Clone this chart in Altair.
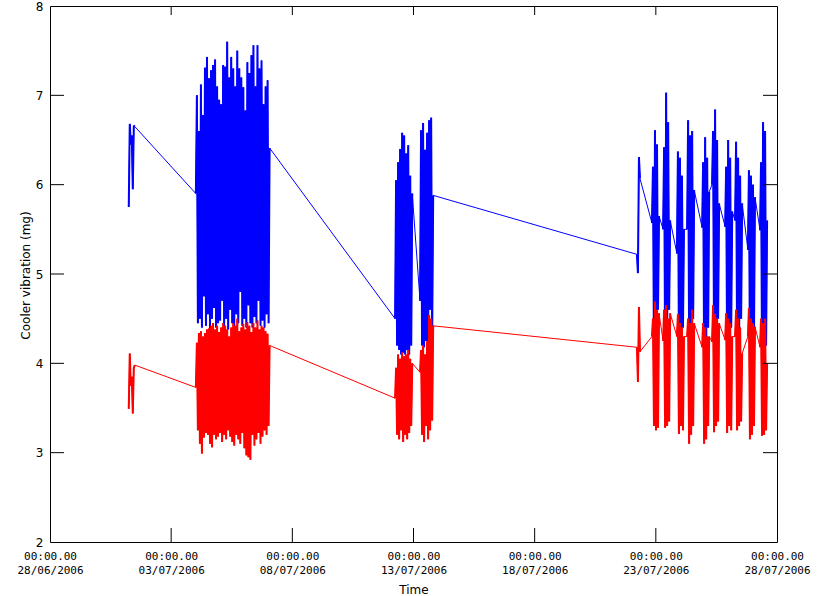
import json
import altair as alt
import pandas as pd

# ---------------- axis / tick texts ----------------
X_TICK_DAYS = [0, 5, 10, 15, 20, 25, 30]          # days since 28/06/2006 00:00
X_TICK_DATES = ["28/06/2006", "03/07/2006", "08/07/2006", "13/07/2006",
                "18/07/2006", "23/07/2006", "28/07/2006"]
X_TICK_TIME = "00:00.00"
Y_TICKS = [2, 3, 4, 5, 6, 7, 8]
X_TITLE = "Time"
Y_TITLE = "Cooler vibration (mg)"

HOUR = 1.0 / 24.0   # sampling cadence (days)

# ---------------- data ----------------
# isolated run on 01/07
ISO1_START = 3.25
ISO1_BLUE = [5.75, 6.68, 6.45, 6.55, 5.95, 6.66, 6.65]
ISO1_RED = [3.49, 4.11, 3.75, 3.85, 3.44, 3.95, 3.98]

# big block 04/07 - 07/07
B1_START = 6.02
B1_ENTRY = (5.90, 3.73)
B1_EXIT = (6.41, 4.20)
B1_BLUE_HI = [7.00, 6.60, 7.12, 6.78, 7.31, 7.43, 7.19, 7.28, 7.34, 7.40, 7.10, 6.95,
              6.90, 7.34, 7.32, 7.60, 7.20, 7.43, 7.30, 7.10, 7.50, 7.30, 7.20, 7.09,
              6.83, 7.37, 7.25, 7.45, 7.56, 7.10, 7.56, 7.30, 7.39, 6.90, 7.10, 7.17]
B1_BLUE_LO = [4.45, 4.50, 4.40, 4.75, 4.42, 4.55, 4.38, 4.50, 4.62, 4.40, 4.45, 4.48,
              4.70, 4.42, 4.50, 4.38, 4.60, 4.45, 4.40, 4.55, 4.45, 4.80, 4.42, 4.50,
              4.40, 4.65, 4.45, 4.40, 4.52, 4.45, 4.70, 4.42, 4.48, 4.40, 4.55, 4.45]
B1_RED_HI = [4.23, 4.34, 4.36, 4.30, 4.34, 4.38, 4.39, 4.42, 4.45, 4.38, 4.42, 4.35,
             4.40, 4.45, 4.42, 4.38, 4.30, 4.40, 4.45, 4.42, 4.50, 4.36, 4.40, 4.44,
             4.38, 4.46, 4.42, 4.35, 4.45, 4.40, 4.48, 4.38, 4.42, 4.40, 4.36, 4.33]
B1_RED_LO = [3.25, 3.10, 2.99, 3.17, 3.22, 3.20, 3.10, 3.06, 3.20, 3.15, 3.18, 3.22,
             3.12, 3.20, 3.15, 3.25, 3.18, 3.12, 3.08, 3.20, 3.15, 3.10, 3.22, 3.05,
             2.97, 2.95, 2.92, 3.20, 3.08, 3.15, 3.22, 3.10, 3.18, 3.25, 3.20, 3.30]

# block on 12/07
B2_START = 14.24
B2_ENTRY = (4.50, 3.61)
B2_EXIT = (5.90, 4.00)
B2_BLUE_HI = [6.05, 6.25, 6.40, 6.58, 6.55, 6.35, 6.44, 6.10]
B2_BLUE_LO = [4.20, 4.15, 4.10, 4.12, 4.10, 4.15, 4.10, 4.20]
B2_RED_HI = [3.95, 4.10, 4.05, 4.12, 4.08, 4.10, 4.15, 4.05]
B2_RED_LO = [3.20, 3.15, 3.25, 3.12, 3.20, 3.15, 3.22, 3.30]

# block on 13/07
B3_START = 15.27
B3_ENTRY = (4.70, 3.90)
B3_EXIT = (5.88, 4.42)
B3_BLUE_HI = [6.61, 6.69, 6.39, 6.58, 6.72, 6.75]
B3_BLUE_LO = [4.20, 4.18, 4.25, 4.15, 4.60, 4.30]
B3_RED_HI = [4.15, 4.20, 4.10, 4.25, 4.54, 4.50]
B3_RED_LO = [3.20, 3.12, 3.30, 3.15, 3.25, 3.36]

# isolated run on 22/07
ISO4_START = 24.22
ISO4_BLUE = [5.22, 5.01, 6.31, 6.07]
ISO4_RED = [4.18, 3.79, 4.63, 4.13]

# bursts 22/07 - 27/07
BURST_STARTS = [24.84, 25.30, 25.87, 26.29, 26.91, 27.32, 27.86, 28.27, 28.80, 29.30]
BURST_BLUE = [
    [5.57, 6.20, 4.05, 6.61, 4.00, 6.45, 4.60, 5.65],
    [5.50, 6.42, 4.04, 7.03, 4.30, 6.70, 4.60, 5.60],
    [5.23, 6.37, 4.15, 6.30, 4.20, 6.10, 4.40, 5.50],
    [5.50, 6.72, 4.20, 6.55, 4.10, 6.60, 4.50, 5.94],
    [5.52, 6.25, 4.04, 6.53, 4.10, 6.30, 4.40, 5.92],
    [6.00, 6.60, 4.15, 6.84, 4.20, 6.50, 4.50, 5.79],
    [5.53, 6.20, 3.96, 6.50, 4.10, 6.30, 4.40, 5.70],
    [5.60, 6.48, 4.20, 6.30, 4.25, 6.10, 4.50, 5.79],
    [5.27, 6.16, 4.00, 6.10, 4.10, 6.00, 4.30, 5.86],
    [5.49, 6.25, 4.00, 6.70, 4.10, 6.60, 4.20, 5.60],
]
BURST_RED = [
    [4.30, 4.50, 3.30, 4.69, 3.25, 4.60, 3.28, 4.56],
    [4.25, 4.60, 3.28, 4.65, 3.30, 4.50, 3.35, 4.56],
    [4.30, 4.55, 3.21, 4.45, 3.30, 4.40, 3.25, 4.30],
    [4.30, 4.50, 3.10, 4.45, 3.20, 4.60, 3.30, 4.45],
    [4.18, 4.45, 3.10, 4.40, 3.15, 4.30, 3.30, 4.30],
    [4.24, 4.65, 3.23, 4.55, 3.30, 4.50, 3.35, 4.45],
    [4.26, 4.56, 3.22, 4.50, 3.30, 4.45, 3.25, 4.30],
    [4.30, 4.60, 3.25, 4.50, 3.30, 4.40, 3.35, 4.11],
    [4.30, 4.62, 3.15, 4.50, 3.20, 4.45, 3.30, 4.41],
    [4.18, 4.50, 3.19, 4.45, 3.20, 4.50, 3.25, 4.00],
]

# ---------------- assemble table ----------------
rows = []
run_id = [0]


def add_run(start, blue, red):
    for i, (b, r) in enumerate(zip(blue, red)):
        rows.append({"t": start + i * HOUR, "blue": b, "red": r, "run": run_id[0]})
    run_id[0] += 1


def interleave(hi, lo):
    out = []
    for h, l in zip(hi, lo):
        out += [h, l]
    return out


def add_block(start, entry, exit_, bhi, blo, rhi, rlo):
    blue = [entry[0]] + interleave(bhi, blo) + [exit_[0]]
    red = [entry[1]] + interleave(rhi, rlo) + [exit_[1]]
    add_run(start, blue, red)


add_run(ISO1_START, ISO1_BLUE, ISO1_RED)
add_block(B1_START, B1_ENTRY, B1_EXIT, B1_BLUE_HI, B1_BLUE_LO, B1_RED_HI, B1_RED_LO)
add_block(B2_START, B2_ENTRY, B2_EXIT, B2_BLUE_HI, B2_BLUE_LO, B2_RED_HI, B2_RED_LO)
add_block(B3_START, B3_ENTRY, B3_EXIT, B3_BLUE_HI, B3_BLUE_LO, B3_RED_HI, B3_RED_LO)
add_run(ISO4_START, ISO4_BLUE, ISO4_RED)
for s, b, r in zip(BURST_STARTS, BURST_BLUE, BURST_RED):
    add_run(s, b, r)

df = pd.DataFrame(rows)

# ---------------- chart ----------------
W, H = 727, 536
FONT = "DejaVu Sans"
XFONT = "DejaVu Sans Mono"

xscale = alt.Scale(domain=[0, 30], nice=False, zero=False)
yscale = alt.Scale(domain=[2, 8], nice=False, zero=False)

label_expr = "[" + json.dumps(X_TICK_TIME) + ", " + json.dumps(X_TICK_DATES) + "[round(datum.value / 5)]]"

x_axis = alt.Axis(values=X_TICK_DAYS, labelExpr=label_expr, title=X_TITLE,
                  grid=False, domain=False, ticks=False, tickSize=0,
                  labelFlush=False, labelOverlap=False, labelBound=False,
                  labelFont=XFONT, labelFontSize=11, labelColor="black",
                  labelBaseline="top", labelPadding=8, labelLineHeight=14,
                  titleFont=FONT, titleFontSize=12, titleFontWeight="normal",
                  titleColor="black", titleBaseline="middle", titleY=47)
y_axis = alt.Axis(values=Y_TICKS, format="d", title=Y_TITLE,
                  grid=False, domain=False, ticks=False, tickSize=0,
                  labelFlush=False, labelOverlap=False,
                  labelFont=FONT, labelFontSize=12, labelColor="black",
                  labelPadding=7,
                  titleFont=FONT, titleFontSize=12, titleFontWeight="normal",
                  titleColor="black", titleBaseline="middle", titleAngle=270,
                  titleX=-25, titleY=269)

base = alt.Chart(df)

blue_thin = base.mark_line(color="#0000ff", strokeWidth=1).encode(
    x=alt.X("t:Q", scale=xscale, axis=x_axis),
    y=alt.Y("blue:Q", scale=yscale, axis=y_axis),
    order="t:Q",
)
blue_thick = base.mark_line(color="#0000ff", strokeWidth=2, strokeJoin="bevel").encode(
    x=alt.X("t:Q", scale=xscale),
    y=alt.Y("blue:Q", scale=yscale),
    detail="run:N",
    order="t:Q",
)
red_thin = base.mark_line(color="#ff0000", strokeWidth=1).encode(
    x=alt.X("t:Q", scale=xscale),
    y=alt.Y("red:Q", scale=yscale),
    order="t:Q",
)
red_thick = base.mark_line(color="#ff0000", strokeWidth=2, strokeJoin="bevel").encode(
    x=alt.X("t:Q", scale=xscale),
    y=alt.Y("red:Q", scale=yscale),
    detail="run:N",
    order="t:Q",
)

ytick_df = pd.DataFrame({"v": Y_TICKS[1:-1]})
xtick_df = pd.DataFrame({"d": X_TICK_DAYS[1:-1]})

TL = 14
left_ticks = alt.Chart(ytick_df).mark_rule(color="black", strokeWidth=1).encode(
    y=alt.Y("v:Q", scale=yscale), x=alt.value(0), x2=alt.value(TL))
right_ticks = alt.Chart(ytick_df).mark_rule(color="black", strokeWidth=1).encode(
    y=alt.Y("v:Q", scale=yscale), x=alt.value(W - TL), x2=alt.value(W))
bottom_ticks = alt.Chart(xtick_df).mark_rule(color="black", strokeWidth=1).encode(
    x=alt.X("d:Q", scale=xscale), y=alt.value(H - TL), y2=alt.value(H))
top_ticks = alt.Chart(xtick_df).mark_rule(color="black", strokeWidth=1).encode(
    x=alt.X("d:Q", scale=xscale), y=alt.value(0), y2=alt.value(9))

chart = alt.layer(blue_thin, blue_thick, red_thin, red_thick,
                  left_ticks, right_ticks, bottom_ticks, top_ticks).properties(
    width=W, height=H,
    autosize=alt.AutoSizeParams(type="none"),
    padding={"left": 50, "top": 6, "right": 41, "bottom": 54},
    background="white",
).configure_view(stroke="black", strokeWidth=1)

chart.save("out.html", embed_options={"renderer": "svg", "actions": False})
